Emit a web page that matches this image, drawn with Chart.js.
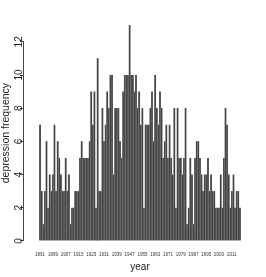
<!DOCTYPE html>
<html>
<head>
<meta charset="utf-8">
<script src="https://cdn.jsdelivr.net/npm/chart.js@4/dist/chart.umd.min.js"></script>
<style>
  html, body { margin: 0; padding: 0; background: #fff; }
  #wrap { width: 266px; height: 277px; }
</style>
</head>
<body>
<div id="wrap"><canvas id="chart"></canvas></div>
<script>
// depressions per year, 1891 - 2016
const firstYear = 1891
const depressionFrequency = [
    7, 3, 1, 3, 6, 2, 4, 3, 4, 7,
    3, 6, 5, 4, 3, 3, 5, 3, 4, 1,
    2, 2, 3, 3, 3, 5, 6, 5, 5, 5,
    5, 6, 9, 7, 9, 2, 11, 3, 3, 8,
    6, 7, 9, 8, 10, 10, 4, 8, 8, 8,
    6, 5, 9, 10, 10, 10, 13, 10, 10, 9,
    10, 8, 9, 7, 8, 2, 7, 7, 7, 8,
    9, 6, 10, 8, 7, 9, 8, 5, 6, 7,
    5, 7, 5, 4, 8, 2, 8, 5, 5, 4,
    5, 8, 1, 2, 5, 4, 1, 5, 6, 6,
    5, 4, 3, 4, 4, 5, 3, 4, 3, 3,
    2, 2, 2, 4, 2, 5, 8, 7, 4, 2,
    3, 4, 2, 3, 3, 2
]
const years = depressionFrequency.map((_, i) => firstYear + i)
const yearTicks = [1891, 1899, 1907, 1915, 1923, 1931, 1939, 1947, 1955, 1963, 1971, 1979, 1987, 1995, 2003, 2011]
const frequencyTicks = [0, 2, 4, 6, 8, 10, 12]

const font = "'Liberation Sans', Arial, sans-serif"

/**
 * R style y axis line, only between the first and last tick
 */
const axisLine = {
    id: "axisLine",
    afterDraw(chart) {
        const y = chart.scales.y
        const ctx = chart.ctx
        ctx.save()
        ctx.strokeStyle = "#444"
        ctx.lineWidth = 1
        ctx.beginPath()
        ctx.moveTo(y.right - 0.5, y.getPixelForValue(frequencyTicks[0]))
        ctx.lineTo(y.right - 0.5, y.getPixelForValue(frequencyTicks[frequencyTicks.length - 1]))
        ctx.stroke()
        ctx.restore()
    }
}

new Chart(document.getElementById("chart"), {
    type: "bar",
    data: {
        labels: years,
        datasets: [{
            data: depressionFrequency,
            backgroundColor: "#434343",
            borderColor: "#8e8e8e",
            borderWidth: 0.4,
            barPercentage: 1,
            categoryPercentage: 1
        }]
    },
    options: {
        responsive: true,
        maintainAspectRatio: false,
        animation: false,
        layout: { padding: { top: 16.6, right: 10, left: 0, bottom: 0 } },
        plugins: { legend: { display: false }, tooltip: { enabled: false } },
        scales: {
            x: {
                type: "linear",
                min: firstYear - 5.54,
                max: years[years.length - 1] + 5.54,
                afterBuildTicks: (scale) => { scale.ticks = yearTicks.map((v) => ({ value: v })) },
                afterFit: (scale) => { scale.height = 27.4 },
                grid: { display: false, drawTicks: false },
                border: { display: false },
                ticks: {
                    autoSkip: false,
                    maxRotation: 0,
                    padding: 2.5,
                    color: "#333",
                    font: { family: font, size: 4.5 },
                    callback: (v) => String(v)
                },
                title: {
                    display: true,
                    text: "year",
                    color: "#222",
                    font: { family: font, size: 10 },
                    padding: { top: 0, bottom: 4 }
                }
            },
            y: {
                min: -0.52,
                max: 13.52,
                afterBuildTicks: (scale) => { scale.ticks = frequencyTicks.map((v) => ({ value: v })) },
                afterFit: (scale) => { scale.width = 24 },
                grid: { drawOnChartArea: false, drawTicks: true, tickLength: 4, color: "#444" },
                border: { display: false },
                ticks: {
                    minRotation: 90,
                    maxRotation: 90,
                    crossAlign: "center",
                    padding: -4.5,
                    color: "#222",
                    font: { family: font, size: 10 }
                },
                title: {
                    display: true,
                    text: "depression frequency",
                    color: "#222",
                    font: { family: font, size: 10.5 },
                    padding: { top: 0, bottom: 0 }
                }
            }
        }
    },
    plugins: [axisLine]
})
</script>
</body>
</html>
